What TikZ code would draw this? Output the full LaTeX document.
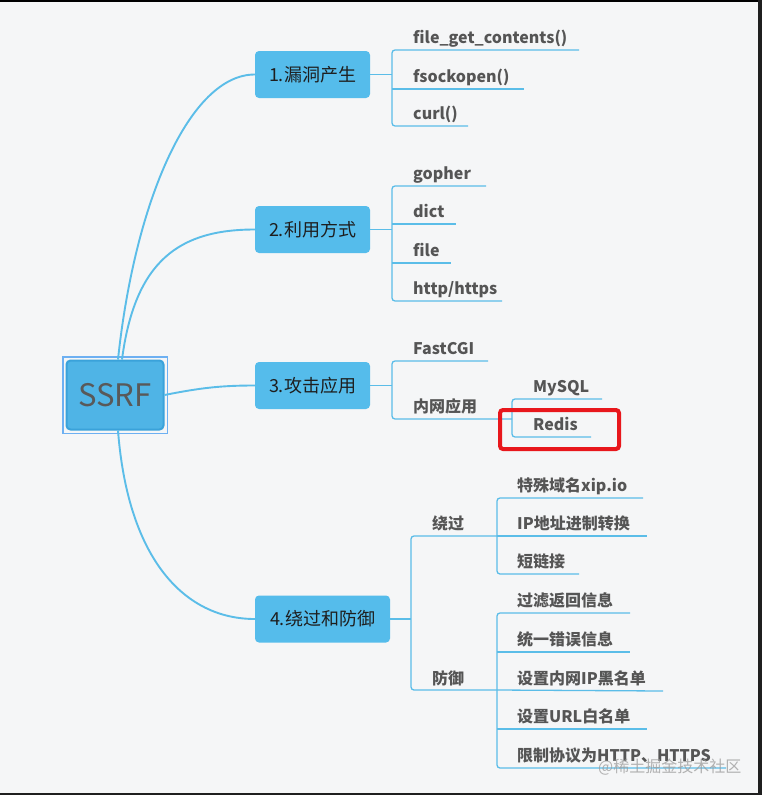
\documentclass[tikz,border=0pt]{standalone}
\usepackage{fontspec}
\setmainfont{Noto Sans CJK SC}
\definecolor{bg}{HTML}{F5F6F7}
\definecolor{lineblue}{HTML}{5BBDE8}
\definecolor{boxblue}{HTML}{55BCEB}
\definecolor{ssrffill}{HTML}{4FB4E6}
\definecolor{ssrfdraw}{HTML}{3AA2DA}
\definecolor{framecol}{HTML}{6DB0F2}
\definecolor{leafgray}{HTML}{555555}
\definecolor{boxtext}{HTML}{1E1E1E}
\definecolor{redbox}{HTML}{E8171C}
\definecolor{wm}{HTML}{9A9A9A}
\tikzset{
  mainlink/.style={draw=lineblue, line width=1.9pt},
  leafline/.style={draw=lineblue, line width=1.3pt, rounded corners=3pt},
  leaf/.style={anchor=base west, inner sep=0pt, text=leafgray, font=\bfseries\fontsize{16}{16}\selectfont},
  brbox/.style={fill=boxblue, rounded corners=4pt, minimum height=47pt, inner sep=0pt, text=boxtext, font=\fontsize{18}{18}\selectfont},
}
\begin{document}
\begin{tikzpicture}[x=1pt,y=-1pt]
\fill[bg] (0,0) rectangle (762,795);
\useasboundingbox (0,0) rectangle (762,795);
\fill[black] (0,0) rectangle (762,1.5);
\fill[black!88] (758,0) rectangle (762,795);
\fill[black!88] (0,793) rectangle (762,795);

% root
\draw[framecol, line width=1.5pt] (62.75,356.75) rectangle (167.25,433.25);
\node[fill=ssrffill, draw=ssrfdraw, line width=2pt, rounded corners=4pt, minimum width=97pt, minimum height=69pt, inner sep=0pt, text=black!65, font=\fontsize{31}{31}\selectfont] (ssrf) at (115,395) {SSRF};

% branches
\node[brbox, minimum width=115pt] (b1) at (312.5,74.5) {1.漏洞产生};
\node[brbox, minimum width=115pt] (b2) at (312.5,229.5) {2.利用方式};
\node[brbox, minimum width=115pt] (b3) at (312.5,385.5) {3.攻击应用};
\node[brbox, minimum width=135pt] (b4) at (322.5,619) {4.绕过和防御};

\draw[mainlink] ([xshift=3pt]ssrf.north) .. controls (135,200) and (190,74.5) .. (b1.west);
\draw[mainlink] ([xshift=7pt]ssrf.north) .. controls (135,260) and (180,229.5) .. (b2.west);
\draw[mainlink] (ssrf.east) .. controls (200,388) and (220,385.5) .. (b3.west);
\draw[mainlink] ([xshift=3pt]ssrf.south) .. controls (128,560) and (185,619) .. (b4.west);

% branch 1 leaves
\node[leaf] (l11) at (413,43) {file\_get\_contents()};
\node[leaf] (l12) at (413,82) {fsockopen()};
\node[leaf] (l13) at (413,119) {curl()};
\coordinate (j1) at (392,74.5);
\coordinate (e11) at (579,50);
\coordinate (e12) at (524,89);
\coordinate (e13) at (468,126);
\draw[leafline] (e11) -- (392,50) -- (392,126) -- (e13);
\draw[leafline] (392,89) -- (e12);
\draw[leafline] (b1.east) -- (j1);

% branch 2 leaves
\node[leaf] (l21) at (413,179) {gopher};
\node[leaf] (l22) at (413,217) {dict};
\node[leaf] (l23) at (413,256) {file};
\node[leaf] (l24) at (413,294) {http/https};
\coordinate (j2) at (392,229.5);
\coordinate (e21) at (486,186);
\coordinate (e22) at (456,224);
\coordinate (e23) at (451,263);
\coordinate (e24) at (502,301);
\draw[leafline] (e21) -- (392,186) -- (392,301) -- (e24);
\draw[leafline] (392,224) -- (e22);
\draw[leafline] (392,263) -- (e23);
\draw[leafline] (b2.east) -- (j2);

% branch 3 leaves
\node[leaf] (l31) at (413,354) {FastCGI};
\node[leaf] (l32) at (413,412) {内网应用};
\node[leaf] (l33) at (533,392) {MySQL};
\node[leaf] (l34) at (533,430) {Redis};
\coordinate (j3) at (392,385.5);
\coordinate (e31) at (488,361);
\coordinate (j32) at (512,419);
\coordinate (e33) at (602,399);
\coordinate (e34) at (591,437);
\draw[leafline] (e31) -- (392,361) -- (392,419) -- (j32);
\draw[leafline] (b3.east) -- (j3);
\draw[leafline] (e33) -- (512,399) -- (512,437) -- (e34);
\draw[redbox, line width=4pt, rounded corners=3pt] (500,410) rectangle (619,449);

% branch 4
\node[leaf] (l41) at (432,529) {绕过};
\node[leaf] (l42) at (432,684) {防御};
\coordinate (j4) at (411,619);
\coordinate (j41) at (497,536);
\coordinate (j42) at (497,690);
\draw[leafline] (j41) -- (411,536) -- (411,690) -- (j42);
\draw[leafline] (b4.east) -- (j4);

\node[leaf] (m1) at (517,491) {特殊域名xip.io};
\node[leaf] (m2) at (517,529) {IP地址进制转换};
\node[leaf] (m3) at (517,567) {短链接};
\coordinate (f1) at (643,498);
\coordinate (f2) at (647,536);
\coordinate (f3) at (579,574);
\draw[leafline] (f1) -- (497,498) -- (497,574) -- (f3);
\draw[leafline] (j41) -- (f2);

\node[leaf] (n1) at (517,606) {过滤返回信息};
\node[leaf] (n2) at (517,645) {统一错误信息};
\node[leaf] (n3) at (517,684) {设置内网IP黑名单};
\node[leaf] (n4) at (517,722) {设置URL白名单};
\node[leaf] (n5) at (517,761) {限制协议为HTTP、HTTPS};
\coordinate (g1) at (630,613);
\coordinate (g2) at (630,652);
\coordinate (g3) at (663,691);
\coordinate (g4) at (647,729);
\coordinate (g5) at (726,768);
\draw[leafline] (g1) -- (497,613) -- (497,768) -- (g5);
\draw[leafline] (497,652) -- (g2);
\draw[leafline] (j42) -- (g3);
\draw[leafline] (497,729) -- (g4);

% watermark
\node[anchor=base west, inner sep=0pt, text=wm, opacity=0.75, font=\fontsize{16}{16}\selectfont] (wmk) at (598,772) {@稀土掘金技术社区};
\end{tikzpicture}
\end{document}
